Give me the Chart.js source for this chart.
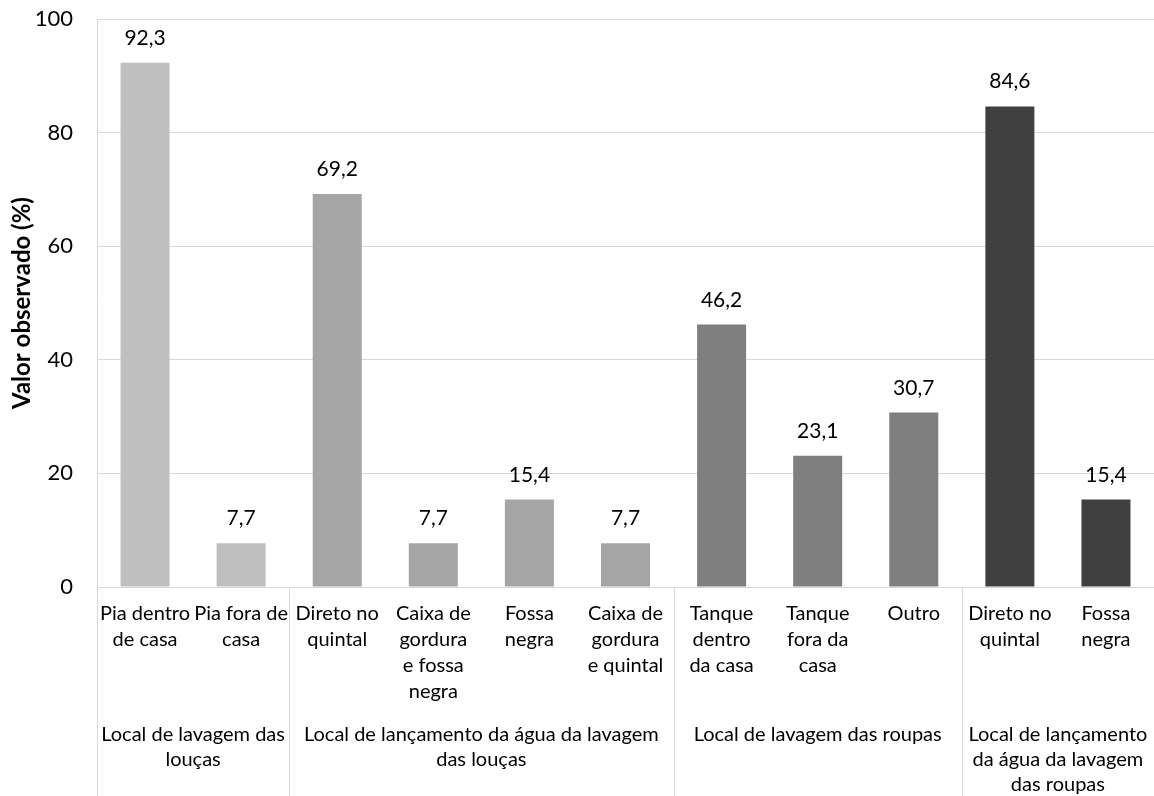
<!DOCTYPE html>
<html lang="pt">
<head>
<meta charset="UTF-8">
<title>Valor observado</title>
<script src="https://cdn.jsdelivr.net/npm/chart.js"></script>
<style>
  html, body { margin: 0; padding: 0; background: #fff; }
  #wrap { width: 1154px; height: 796px; position: relative; }
</style>
</head>
<body>
<div id="wrap"><canvas id="chart"></canvas></div>
<script>
// categories (multi-line labels as shown under each bar)
const categories = [
  ['Pia dentro', 'de casa'],
  ['Pia fora de', 'casa'],
  ['Direto no', 'quintal'],
  ['Caixa de', 'gordura', 'e fossa', 'negra'],
  ['Fossa', 'negra'],
  ['Caixa de', 'gordura', 'e quintal'],
  ['Tanque', 'dentro', 'da casa'],
  ['Tanque', 'fora da', 'casa'],
  ['Outro'],
  ['Direto no', 'quintal'],
  ['Fossa', 'negra']
];
const values = [92.3, 7.7, 69.2, 7.7, 15.4, 7.7, 46.2, 23.1, 30.7, 84.6, 15.4];

// group of each bar and the group captions
const groupOf = [0, 0, 1, 1, 1, 1, 2, 2, 2, 3, 3];
const groupLabels = [
  ['Local de lavagem das', 'louças'],
  ['Local de lançamento da água da lavagem', 'das louças'],
  ['Local de lavagem das roupas'],
  ['Local de lançamento', 'da água da lavagem', 'das roupas']
];
const groupColors = ['#bfbfbf', '#a5a5a5', '#7f7f7f', '#404040'];
const yTicks = [0, 20, 40, 60, 80, 100];

const FONT = 'Lato, "Open Sans", sans-serif';

const extras = {
  id: 'extras',
  afterDatasetsDraw(chart) {
    const ctx = chart.ctx;
    const meta = chart.getDatasetMeta(0);
    ctx.save();
    ctx.fillStyle = '#000';
    ctx.font = '21px ' + FONT;
    ctx.textAlign = 'center';
    ctx.textBaseline = 'alphabetic';
    meta.data.forEach((bar, i) => {
      ctx.fillText(values[i].toFixed(1).replace('.', ','), bar.x, bar.y - 18);
    });
    ctx.restore();
  },
  afterDraw(chart) {
    const ctx = chart.ctx;
    const xs = chart.scales.x;
    const area = chart.chartArea;
    const half = (xs.getPixelForValue(1) - xs.getPixelForValue(0)) / 2;
    ctx.save();
    ctx.strokeStyle = '#d9d9d9';
    ctx.lineWidth = 1;
    let start = 0;
    for (let i = 0; i <= groupOf.length; i++) {
      if (i === groupOf.length || (i > 0 && groupOf[i] !== groupOf[i - 1])) {
        const g = groupOf[i - 1];
        const left = xs.getPixelForValue(start) - half;
        const right = xs.getPixelForValue(i - 1) + half;
        // group caption
        ctx.fillStyle = '#000';
        ctx.font = '20px ' + FONT;
        ctx.textAlign = 'center';
        ctx.textBaseline = 'middle';
        groupLabels[g].forEach((line, k) => {
          ctx.fillText(line, (left + right) / 2, area.bottom + 148 + k * 25);
        });
        start = i;
      }
      // separator line between groups
      if (i === 0 || i === groupOf.length || groupOf[i] !== groupOf[i - 1]) {
        const x = Math.round(xs.getPixelForValue(i) - half) + 0.5;
        ctx.beginPath();
        ctx.moveTo(x, area.bottom);
        ctx.lineTo(x, chart.height);
        ctx.stroke();
      }
    }
    ctx.restore();
  }
};

new Chart(document.getElementById('chart'), {
  type: 'bar',
  data: {
    labels: categories,
    datasets: [{
      data: values,
      backgroundColor: groupOf.map(g => groupColors[g]),
      barPercentage: 0.51,
      categoryPercentage: 1
    }]
  },
  options: {
    responsive: true,
    maintainAspectRatio: false,
    animation: false,
    layout: { padding: { top: 19, right: 0, bottom: 0, left: 0 } },
    plugins: { legend: { display: false }, tooltip: { enabled: false } },
    scales: {
      x: {
        grid: { display: false },
        border: { color: '#d9d9d9' },
        ticks: {
          color: '#000',
          font: { family: FONT, size: 20, lineHeight: 1.3 },
          padding: 6,
          maxRotation: 0,
          autoSkip: false
        },
        afterFit(scale) {
          scale.height = 209;
          scale.paddingLeft = 0;
          scale.paddingRight = 0;
        }
      },
      y: {
        min: 0,
        max: 100,
        afterBuildTicks(scale) { scale.ticks = yTicks.map(v => ({ value: v })); },
        grid: { color: '#d9d9d9', drawTicks: false },
        border: { color: '#d9d9d9' },
        ticks: {
          color: '#000',
          font: { family: FONT, size: 22 },
          padding: 24
        },
        title: {
          display: true,
          text: 'Valor observado (%)',
          color: '#000',
          font: { family: FONT, size: 24, weight: 'bold' },
          padding: { top: 8, bottom: 0 }
        },
        afterFit(scale) {
          scale.width = 97;
          scale.paddingTop = 0;
          scale.paddingBottom = 0;
        }
      }
    }
  },
  plugins: [extras]
});
</script>
</body>
</html>
